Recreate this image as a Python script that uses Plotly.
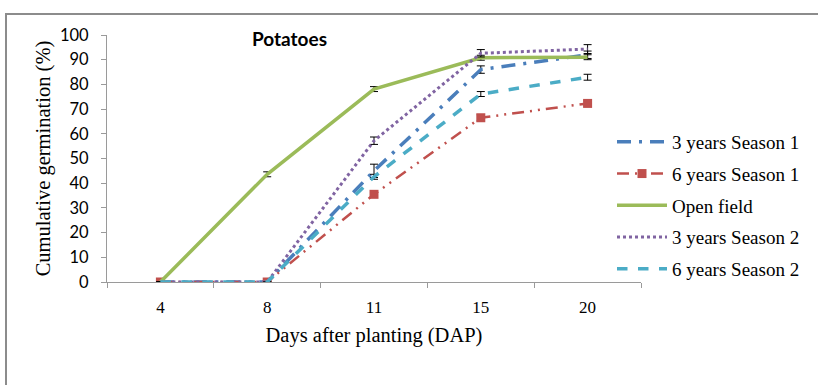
import plotly.graph_objects as go

days = ["4", "8", "11", "15", "20"]
names = ["3 years Season 1", "6 years Season 1", "Open field", "3 years Season 2", "6 years Season 2"]
y3s1 = [0, 0, 45, 86, 92]
y6s1 = [0, 0, 35.5, 66.5, 72.3]
yopen = [0, 43.6, 78.1, 90.8, 91]
y3s2 = [0, 0, 57.2, 92.6, 94.3]
y6s2 = [0, 0, 42.6, 76.1, 82.9]
e3s1 = [0, 0, 2.7, 1.5, 1.5]
e6s1 = [0, 0, 1.0, 1.2, 1.0]
eopen = [0, 1.0, 1.0, 1.0, 1.0]
e3s2 = [0, 0, 1.5, 1.5, 1.8]
e6s2 = [0, 0, 1.0, 1.0, 1.2]

series = [
    (names[0], y3s1, e3s1, "#4A7EBB", "14px,8px,3px,8px", 3.5, None),
    (names[1], y6s1, e6s1, "#C0504D", "12px,6px,2px,6px,2px,6px", 2.5, "square"),
    (names[2], yopen, eopen, "#9BBB59", "solid", 3.5, None),
    (names[3], y3s2, e3s2, "#8064A2", "dot", 3.0, None),
    (names[4], y6s2, e6s2, "#4BACC6", "dash", 3.5, None),
]

fig = go.Figure()
for i, (nm, ys, es, col, dash, w, sym) in enumerate(series):
    fig.add_trace(go.Scatter(
        x=days, y=ys, name=nm, legendgroup=f"g{i}",
        mode="lines+markers" if sym else "lines",
        line=dict(color=col, width=w, dash=dash),
        marker=dict(symbol=sym or "circle", size=9, color=col),
        error_y=dict(type="data", array=es, visible=True, color="black", thickness=1, width=4),
    ))

L, R, T, B = 107, 641, 35, 282
W, H = 818, 385
fig.update_layout(
    width=W, height=H,
    margin=dict(l=L, r=W - R, t=T, b=H - B),
    plot_bgcolor="white", paper_bgcolor="white",
    showlegend=True,
    legend=dict(
        x=(612 - L) / (R - L), y=(282 - 123) / (B - T), xanchor="left", yanchor="top",
        font=dict(family="Liberation Serif", size=19, color="black"),
        bgcolor="rgba(0,0,0,0)", tracegroupgap=4, traceorder="grouped",
        itemwidth=50,
    ),
    xaxis=dict(
        type="category", range=[-0.5, 4.5], showgrid=False, showline=True, linecolor="#9a9a9a", linewidth=1,
        ticks="outside", tickson="boundaries", ticklen=5, tickcolor="#9a9a9a",
        tickfont=dict(family="Liberation Serif", size=17, color="black"),
        ticklabelstandoff=10,
        title=dict(text="Days after planting (DAP)", font=dict(family="Liberation Serif", size=20.5, color="black"), standoff=11),
    ),
    yaxis=dict(
        range=[0, 100], dtick=10, showgrid=False, showline=True, linecolor="#9a9a9a", linewidth=1,
        ticks="outside", ticklen=5, tickcolor="#9a9a9a", zeroline=False,
        tickfont=dict(family="Lato", size=16.5, color="black"),
        ticklabelstandoff=9,
        title=dict(text="Cumulative germination (%)", font=dict(family="Liberation Serif", size=20.5, color="black"), standoff=3),
    ),
    annotations=[dict(
        text="<b>Potatoes</b>", xref="paper", yref="paper",
        x=(289 - L) / (R - L), y=(B - 38) / (B - T), xanchor="center", yanchor="middle",
        showarrow=False, font=dict(family="Lato", size=19, color="black"),
    )],
    shapes=[dict(
        type="rect", xref="paper", yref="paper",
        x0=(6 - L) / (R - L), x1=1.6, y0=-1.0, y1=(B - 14) / (B - T),
        line=dict(color="#8c8c8c", width=2), fillcolor="rgba(0,0,0,0)", layer="below",
    )],
)

fig.write_html("out.html")
